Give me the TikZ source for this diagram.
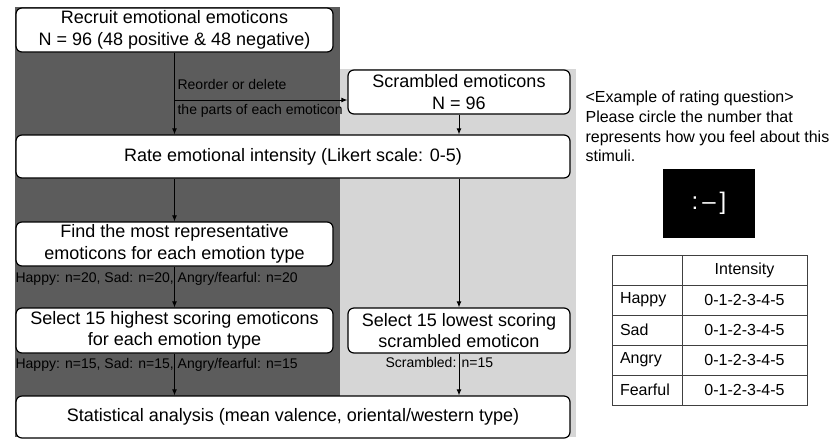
\documentclass[tikz,border=0pt]{standalone}
\usepackage{fontspec}
\setmainfont{Liberation Sans}
\newfontfamily\monofont{DejaVu Sans Mono}
\usetikzlibrary{arrows.meta}
\definecolor{darkbg}{RGB}{92,92,92}
\definecolor{lightbg}{RGB}{214,214,214}

\begin{document}
\begin{tikzpicture}[x=1pt, y=-1pt, line width=1.2pt,
    box/.style = {draw, fill=white, rounded corners=6pt, align=center, inner sep=0pt, font=\fontsize{18}{21.5}\selectfont},
    note/.style = {inner sep=0pt, font=\fontsize{14}{16}\selectfont},
    cell/.style = {draw=black!75, line width=0.9pt, minimum height=30, inner sep=0pt, font=\fontsize{16}{19}\selectfont},
    arr/.style = {-{Latex[length=6pt,width=5pt]}, line width=1pt}]
      \useasboundingbox (0,0) rectangle (834,440);
      % two panels behind the flow
      \fill[darkbg] (15,7) rectangle (340,437);
      \fill[lightbg] (340,69) rectangle (576,437);

      \node[box, minimum width=317, minimum height=44] (1) at (174.5,30) {Recruit emotional emoticons\\N = 96 (48 positive \& 48 negative)};
      \node[box, minimum width=222, minimum height=44] (2) at (459,92) {Scrambled emoticons\\N = 96};
      \node[box, minimum width=554, minimum height=43] (3) at (293,156.5) {Rate emotional intensity (Likert scale: 0-5)};
      \node[box, minimum width=317, minimum height=44] (4) at (174.5,244) {Find the most representative\\emoticons for each emotion type};
      \node[box, minimum width=317, minimum height=45] (5) at (174.5,330.5) {Select 15 highest scoring emoticons\\for each emotion type};
      \node[box, minimum width=222, minimum height=45] (6) at (459,330.5) {Select 15 lowest scoring\\scrambled emoticon};
      \node[box, minimum width=554, minimum height=42] (7) at (293,417) {Statistical analysis (mean valence, oriental/western type)};

      % small labels
      \node[note, anchor=base west] (r1) at (177,89) {Reorder or delete};
      \node[note, anchor=base west] (r2) at (177,114) {the parts of each emoticon};
      \node[note, anchor=base west] (c1) at (15,282) {Happy: n=20, Sad: n=20, Angry/fearful: n=20};
      \node[note, anchor=base west] (c2) at (15,368) {Happy: n=15, Sad: n=15, Angry/fearful: n=15};
      \node[note, anchor=base west] (c3) at (385,367) {Scrambled: n=15};

      \coordinate (s) at (175,100);
      \draw[arr] (1) -- (1 |- 3.north);
      \draw[arr] (s) -- (s -| 2.west);
      \draw[arr] (2) -- (2 |- 3.north);
      \draw[arr] (1 |- 3.south) -- (4);
      \draw[arr] (2 |- 3.south) -- (6);
      \draw[arr] (4) -- (5);
      \draw[arr] (5) -- (5 |- 7.north);
      \draw[arr] (6) -- (6 |- 7.north);

      % rating question example
      \node[anchor=north west, align=left, inner sep=0pt, font=\fontsize{16}{19.7}\selectfont] (q) at (585,90.5) {<Example of rating question>\\Please circle the number that\\represents how you feel about this\\stimuli.};
      \node[fill=black, minimum width=92, minimum height=69, inner sep=0pt, text=white, font=\fontsize{24}{28}\selectfont] (emo) at (709,203.5) {:\,–\,]};

      \node[cell, minimum width=70] (t0) at (647,270) {};
      \node[cell, minimum width=125] (t1) at (744.5,270) {Intensity};
      \foreach \lab [count=\i] in {Happy, Sad, Angry, Fearful} {
        \node[cell, minimum width=70, text width=54, align=left] (a\i) at (647,270+30*\i) {\lab};
        \node[cell, minimum width=125] (b\i) at (744.5,270+30*\i) {0-1-2-3-4-5};
      }
    \end{tikzpicture}
\end{document}
